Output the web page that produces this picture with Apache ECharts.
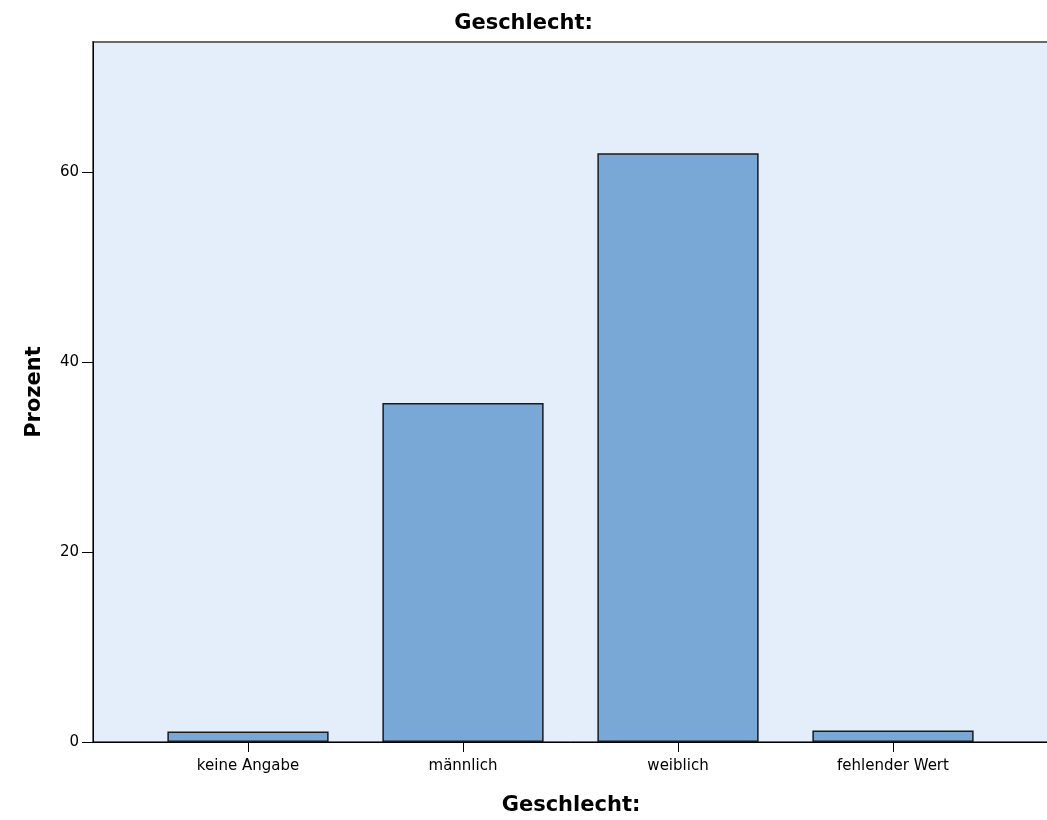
<!DOCTYPE html>
<html><head><meta charset="utf-8">
<script src="https://cdn.jsdelivr.net/npm/echarts@6/dist/echarts.min.js"></script>
<style>html,body{margin:0;padding:0;background:#fff}#c{width:1047px;height:820px}</style>
</head><body><div id="c"></div>
<script>
const categories = ['keine Angabe', 'männlich', 'weiblich', 'fehlender Wert'];
const percentValues = [1.1, 35.7, 62.0, 1.2];
const yTicks = [0, 20, 40, 60];
const yMax = 73.7;

const font = 'DejaVu Sans, sans-serif';
const chart = echarts.init(document.getElementById('c'), null, {renderer: 'canvas'});
chart.setOption({
  animation: false,
  title: {
    text: 'Geschlecht:', left: 'center', top: 8,
    textStyle: {fontFamily: font, fontSize: 21, fontWeight: 'bold', color: '#000'}
  },
  grid: [
    {left: 93, right: -2, top: 42, bottom: 78, show: true, backgroundColor: '#e3eefa', borderColor: '#6a6a6a', borderWidth: 2, outerBoundsMode: 'none', containLabel: false},
    {left: 140.5, width: 860, top: 42, bottom: 78, outerBoundsMode: 'none', containLabel: false}
  ],
  xAxis: [
    {type: 'value', gridIndex: 0, min: 0, max: 1, show: true,
     axisLine: {show: true, onZero: false, lineStyle: {color: '#000', width: 1}},
     axisTick: {show: false}, axisLabel: {show: false}, splitLine: {show: false},
     name: 'Geschlecht:', nameLocation: 'middle', nameGap: 53,
     nameTextStyle: {fontFamily: font, fontSize: 21, fontWeight: 'bold', color: '#000'}},
    {type: 'category', gridIndex: 1, data: categories,
     axisLine: {show: false},
     axisTick: {show: true, alignWithLabel: true, length: 10, lineStyle: {color: '#000'}},
     axisLabel: {fontFamily: font, fontSize: 15, color: '#000', margin: 17}}
  ],
  yAxis: [
    {type: 'value', gridIndex: 0, min: 0, max: yMax,
     axisLine: {show: true, lineStyle: {color: '#000', width: 1}},
     axisTick: {show: true, length: 11, customValues: yTicks, lineStyle: {color: '#000'}},
     axisLabel: {fontFamily: font, fontSize: 15, color: '#000', margin: 14, customValues: yTicks},
     splitLine: {show: false},
     name: 'Prozent', nameLocation: 'middle', nameGap: 48, nameRotate: 90,
     nameTextStyle: {fontFamily: font, fontSize: 21, fontWeight: 'bold', color: '#000'}},
    {type: 'value', gridIndex: 1, min: 0, max: yMax, show: false}
  ],
  series: [{
    type: 'bar', xAxisIndex: 1, yAxisIndex: 1, data: percentValues,
    barCategoryGap: '25%',
    itemStyle: {color: '#7aa8d6', borderColor: '#1a1a1a', borderWidth: 1.5}
  }]
});
</script></body></html>
